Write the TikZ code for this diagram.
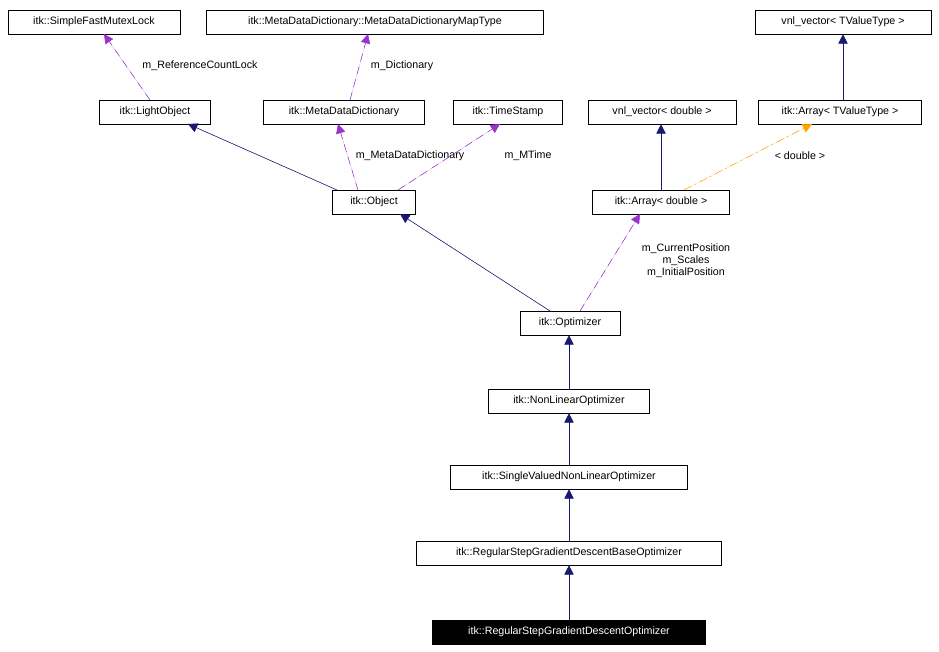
\documentclass[tikz,border=0pt]{standalone}
\usepackage{fontspec}
\setmainfont{Liberation Sans}
\usetikzlibrary{arrows.meta}
\definecolor{navy}{HTML}{191970}
\definecolor{purp}{HTML}{9A32CD}
\definecolor{orng}{HTML}{FFA500}
\begin{document}
\begin{tikzpicture}[x=0.75pt,y=-0.75pt,
  box/.style={draw,fill=white,minimum height=18pt,inner xsep=4pt,font=\fontsize{8}{9}\selectfont},
  lab/.style={font=\fontsize{8}{9}\selectfont,align=center},
  inh/.style={draw=navy,-{Triangle[length=7pt,width=7pt]},fill=navy},
  use/.style={draw=purp,dashed,dash pattern=on 6pt off 4pt,-{Triangle[length=7pt,width=7pt]},fill=purp},
  tpl/.style={draw=orng,dash pattern=on 6pt off 3pt on 1pt off 3pt,-{Triangle[length=7pt,width=7pt]},fill=orng}]
\useasboundingbox (0,0) rectangle (939,652);
\node[box,minimum width=129pt] (mutex) at (94,22) {itk::SimpleFastMutexLock};
\node[box,minimum width=253pt] (map) at (375,22) {itk::MetaDataDictionary::MetaDataDictionaryMapType};
\node[box,minimum width=132pt] (vt) at (843,22) {vnl\_vector< TValueType >};
\node[box,minimum width=83pt] (lo) at (155,112) {itk::LightObject};
\node[box,minimum width=121pt] (mdd) at (344,112) {itk::MetaDataDictionary};
\node[box,minimum width=82pt] (ts) at (508,112) {itk::TimeStamp};
\node[box,minimum width=111pt] (vd) at (662,112) {vnl\_vector< double >};
\node[box,minimum width=122pt] (at) at (840,112) {itk::Array< TValueType >};
\node[box,minimum width=62pt] (obj) at (374,202) {itk::Object};
\node[box,minimum width=103pt] (ad) at (661,202) {itk::Array< double >};
\node[box,minimum width=75pt] (opt) at (570,323) {itk::Optimizer};
\node[box,minimum width=121pt] (nlo) at (569,401) {itk::NonLinearOptimizer};
\node[box,minimum width=178pt] (sv) at (569,477) {itk::SingleValuedNonLinearOptimizer};
\node[box,minimum width=229pt] (rsb) at (569,553) {itk::RegularStepGradientDescentBaseOptimizer};
\node[box,minimum width=205pt,fill=black,text=white] (rs) at (569,632) {itk::RegularStepGradientDescentOptimizer};

\draw[use] (150,100) -- (104,34);
\node[lab] at (200,66) {m\_ReferenceCountLock};
\draw[use] (350,100) -- (368,34);
\node[lab] at (402,66) {m\_Dictionary};
\draw[inh] (337,190) -- (188,124);
\draw[use] (358,190) -- (338,124);
\node[lab] at (410,156) {m\_MetaDataDictionary};
\draw[use] (398,190) -- (500,124);
\node[lab] at (528,156) {m\_MTime};
\draw[inh] (vt.south |- at.north) -- (vt.south);
\draw[inh] (ad.north) -- (ad.north |- vd.south);
\draw[tpl] (684,190) -- (812,124);
\node[lab] at (800,156) {< double >};
\draw[inh] (550,311) -- (400,214);
\draw[use] (580,311) -- (640,214);
\node[lab,inner sep=0pt] at (686,261) {m\_CurrentPosition\\m\_Scales\\m\_InitialPosition};
\draw[inh] (nlo.north) -- (nlo.north |- opt.south);
\draw[inh] (sv.north) -- (sv.north |- nlo.south);
\draw[inh] (rsb.north) -- (rsb.north |- sv.south);
\draw[inh] (rs.north) -- (rs.north |- rsb.south);
\end{tikzpicture}
\end{document}
